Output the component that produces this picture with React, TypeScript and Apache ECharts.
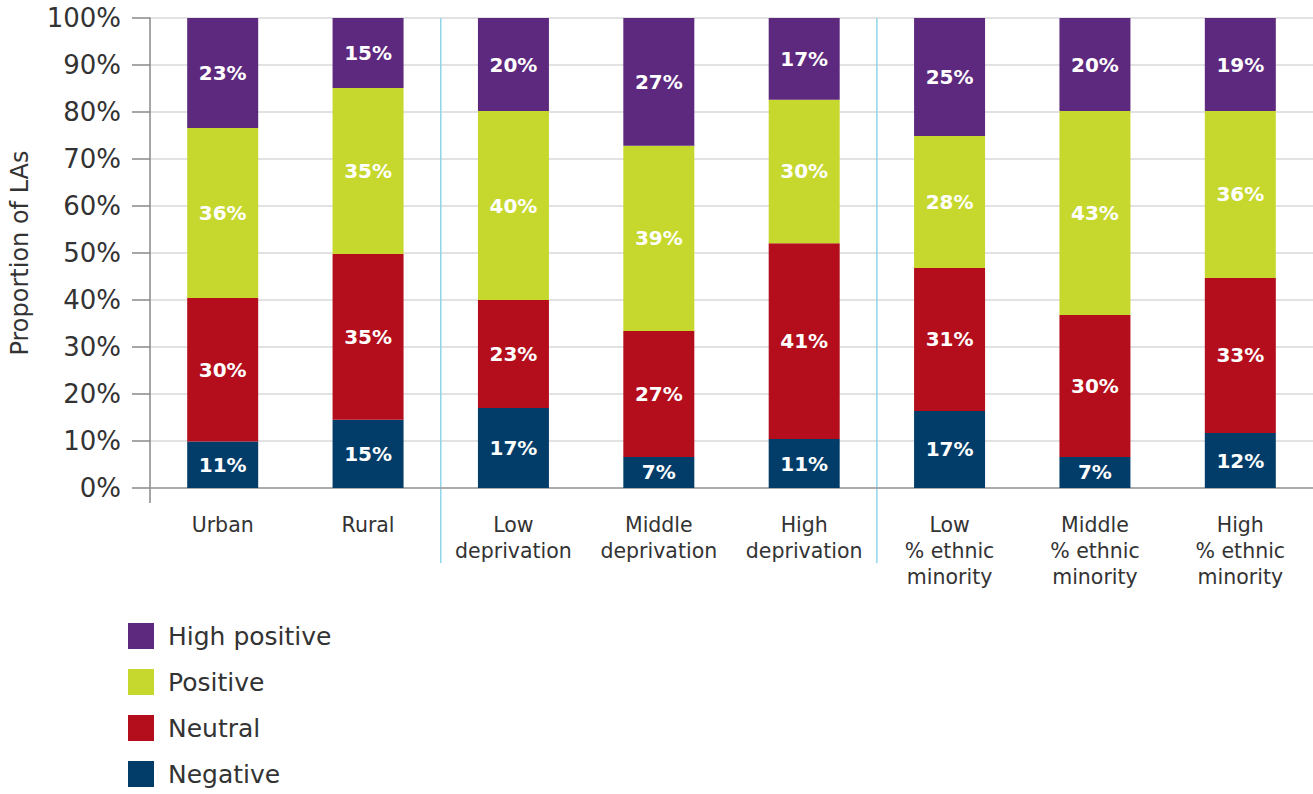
import React, { useEffect, useRef } from "react";
import * as echarts from "echarts";

const categories = [
  "Urban",
  "Rural",
  "Low\ndeprivation",
  "Middle\ndeprivation",
  "High\ndeprivation",
  "Low\n% ethnic\nminority",
  "Middle\n% ethnic\nminority",
  "High\n% ethnic\nminority",
];

// Segment heights (percent of LAs)
const negativeValues = [9.9, 14.5, 17.0, 6.6, 10.4, 16.4, 6.6, 11.7];
const neutralValues = [30.5, 35.3, 23.0, 26.8, 41.7, 30.4, 30.2, 33.0];
const positiveValues = [36.2, 35.3, 40.2, 39.4, 30.5, 28.1, 43.4, 35.5];
const highPositiveValues = [23.4, 14.9, 19.8, 27.2, 17.4, 25.1, 19.8, 19.8];

// Printed labels on the bars
const negativeLabels = [11, 15, 17, 7, 11, 17, 7, 12];
const neutralLabels = [30, 35, 23, 27, 41, 31, 30, 33];
const positiveLabels = [36, 35, 40, 39, 30, 28, 43, 36];
const highPositiveLabels = [23, 15, 20, 27, 17, 25, 20, 19];

const yTicks = [0, 10, 20, 30, 40, 50, 60, 70, 80, 90, 100];

const FONT = "DejaVu Sans";

export default function App() {
  const ref = useRef<HTMLDivElement>(null);

  useEffect(() => {
    document.body.style.margin = "0";
    if (!ref.current) return;
    const chart = echarts.init(ref.current, undefined, { renderer: "svg" });

    const mk = (name: string, color: string, values: number[], labels: number[]) => ({
      name,
      type: "bar",
      stack: "total",
      barWidth: 71,
      data: values,
      itemStyle: { color },
      label: {
        show: true,
        position: "inside",
        color: "#ffffff",
        fontFamily: FONT,
        fontWeight: "bold",
        fontSize: 20,
        formatter: (p: any) => labels[p.dataIndex] + "%",
      },
    });

    chart.setOption({
      animation: false,
      backgroundColor: "#ffffff",
      textStyle: { fontFamily: FONT },
      grid: {
        left: 150,
        right: 0,
        top: 18,
        bottom: 306,
        containLabel: false,
        outerBoundsMode: "none",
      },
      legend: {
        orient: "vertical",
        left: 128,
        top: 623,
        padding: 0,
        itemWidth: 26,
        itemHeight: 26,
        itemGap: 20,
        icon: "rect",
        data: ["High positive", "Positive", "Neutral", "Negative"],
        textStyle: { fontFamily: FONT, fontSize: 25, color: "#333333", padding: [0, 0, 0, 9] },
      },
      xAxis: {
        type: "category",
        data: categories,
        axisLine: { lineStyle: { color: "#999999", width: 1.5 } },
        axisTick: { alignWithLabel: true, length: 15, lineStyle: { color: "#888888", width: 1.5 } },
        axisLabel: {
          interval: 0,
          margin: 24,
          fontFamily: FONT,
          fontSize: 20.5,
          lineHeight: 26,
          color: "#333333",
        },
      },
      yAxis: {
        type: "value",
        min: yTicks[0],
        max: yTicks[yTicks.length - 1],
        interval: 10,
        name: "Proportion of LAs",
        nameLocation: "middle",
        nameGap: 118,
        nameTextStyle: { fontFamily: FONT, fontSize: 24, color: "#333333" },
        axisLine: { show: true, lineStyle: { color: "#888888", width: 1.5 } },
        axisTick: { show: true, length: 18, lineStyle: { color: "#888888", width: 1.5 } },
        axisLabel: {
          margin: 29,
          fontFamily: FONT,
          fontSize: 26,
          color: "#333333",
          formatter: "{value}%",
        },
        splitLine: { lineStyle: { color: "#d9d9d9", width: 1.5 } },
      },
      series: [
        mk("Negative", "#023d6a", negativeValues, negativeLabels),
        mk("Neutral", "#b40e1d", neutralValues, neutralLabels),
        mk("Positive", "#c6d82e", positiveValues, positiveLabels),
        mk("High positive", "#5d297e", highPositiveValues, highPositiveLabels),
      ],
    });

    // Group separators at category boundaries
    const px = (i: number) => chart.convertToPixel({ xAxisIndex: 0 }, i) as number;
    const yTop = chart.convertToPixel({ yAxisIndex: 0 }, 100) as number;
    const yBase = chart.convertToPixel({ yAxisIndex: 0 }, 0) as number;
    const sep1 = (px(1) + px(2)) / 2;
    const sep2 = (px(4) + px(5)) / 2;
    const leftX = px(0) - (px(1) - px(0)) / 2;
    chart.setOption({
      graphic: [
        { type: "line", shape: { x1: sep1, y1: yTop, x2: sep1, y2: yBase + 75 }, style: { stroke: "#8ed6e9", lineWidth: 1.5 } },
        { type: "line", shape: { x1: sep2, y1: yTop, x2: sep2, y2: yBase + 75 }, style: { stroke: "#8ed6e9", lineWidth: 1.5 } },
        { type: "line", shape: { x1: leftX, y1: yBase, x2: leftX, y2: yBase + 15 }, style: { stroke: "#888888", lineWidth: 1.5 } },
      ],
    });

    return () => chart.dispose();
  }, []);

  return <div ref={ref} style={{ width: 1313, height: 794 }} />;
}
